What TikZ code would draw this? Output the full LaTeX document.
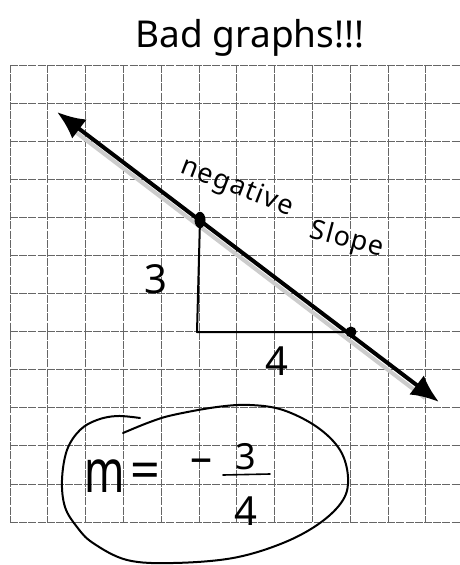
\documentclass[tikz,border=0pt]{standalone}
\usepackage{fontspec}
\setmainfont{Noto Sans}
\newfontfamily\spacedfont[LetterSpace=5]{Noto Sans}
\usetikzlibrary{arrows.meta,calc}
\begin{document}
\begin{tikzpicture}[x=1pt,y=-1pt,
  gridline/.style={black!60, line width=0.75pt, dash pattern=on 8pt off 1.2pt},
  hand/.style={black, line width=2pt, line cap=round, line join=round},
  mainline/.style={black, line width=4pt},
  shadowline/.style={gray!40, line width=4pt},
  txt/.style={inner sep=0pt, text=black}
]
\useasboundingbox (0,0) rectangle (460,565);
\fill[white] (0,0) rectangle (460,565);
% grid
\foreach \i in {0,...,12} \draw[gridline] (10,65+38.08*\i) -- (460,65+38.08*\i);
\foreach \i in {0,...,11} \draw[gridline] (10+37.8*\i,65) -- (10+37.8*\i,522);
% title
\node[txt, font=\fontsize{37}{37}\selectfont] (title) at (250,38) {Bad graphs!!!};
% main line
\coordinate (a) at (57,112);
\coordinate (b) at (439,402);
\draw[shadowline] ($(a)+(12,15)$) -- ($(b)+(-14,-4)$);
\draw[mainline, {Latex[length=28pt,width=24pt]}-{Latex[length=28pt,width=24pt]}] (a) -- (b);
% points and triangle
\node[fill=black, circle, inner sep=0pt, minimum width=11pt, yscale=1.5] (p1) at (200,220) {};
\node[fill=black, circle, inner sep=0pt, minimum width=11pt] (p2) at (351,332) {};
\coordinate (c) at (197,332);
\draw[hand] (p1.center) -- (c) -- (p2.center);
% labels
\node[txt, font=\fontsize{40}{40}\selectfont] (three) at (156,279) {3};
\node[txt, font=\fontsize{40}{40}\selectfont] (four) at (277,361) {4};
\node[txt, font=\spacedfont\fontsize{27}{27}\selectfont, rotate=-21] (neg) at (237,188) {negative};
\node[txt, font=\spacedfont\fontsize{27}{27}\selectfont, rotate=-15] (slope) at (347,240) {Slope};
% equation
\node[txt, font=\fontsize{48}{48}\selectfont, xscale=0.9, yscale=1.25] (m) at (105,476) {m};
\node[txt, font=\fontsize{52}{52}\selectfont] (eq) at (145,476) {=};
\node[txt, font=\bfseries\fontsize{44}{44}\selectfont] (minus) at (201,466) {–};
\node[txt, font=\fontsize{36}{36}\selectfont] (num) at (246,457) {3};
\node[txt, font=\fontsize{40}{40}\selectfont] (den) at (246,511) {4};
\draw[hand, line width=1.6pt] (223,475) -- (270,474);
% circle around equation
\draw[hand] plot[smooth, tension=0.6] coordinates {(123,433) (150,422) (173,415) (217,407) (250,405) (283,410) (317,427) (340,450) (348,477) (343,500) (320,523) (283,543) (233,558) (173,563) (127,560) (93,543) (77,527) (65,507) (62,480) (67,450) (80,430) (97,420) (117,416) (140,418)};
\end{tikzpicture}
\end{document}
